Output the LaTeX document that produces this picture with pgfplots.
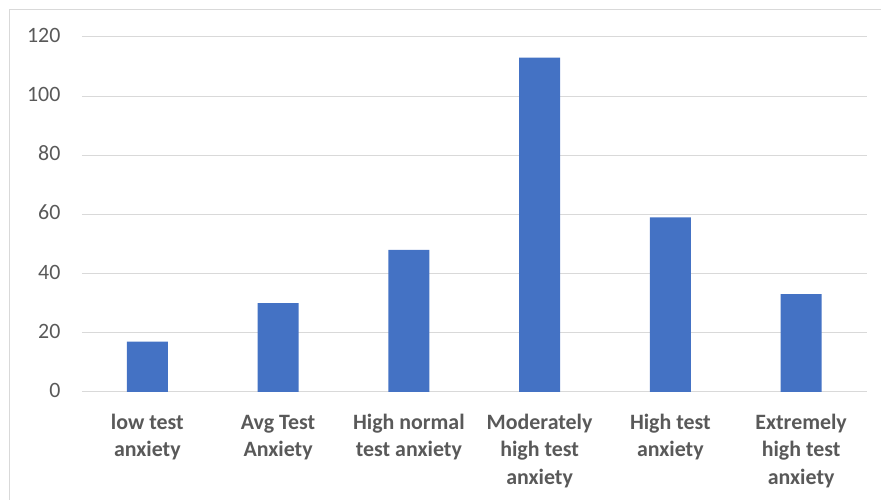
\documentclass[border=0pt]{standalone}
\usepackage{pgfplots}
\pgfplotsset{compat=1.18}
\usepackage{fontspec}
\setmainfont{Carlito}
\definecolor{barblue}{HTML}{4472C4}
\definecolor{txtgray}{HTML}{595959}
\definecolor{gridgray}{HTML}{D9D9D9}
\begin{document}
\begin{tikzpicture}
\begin{axis}[
  scale only axis,
  width=785bp, height=355bp,
  xmin=-0.5, xmax=5.5,
  ymin=0, ymax=120,
  ytick={0,20,...,120},
  xtick={0,1,2,3,4,5},
  xticklabels={{low test\\anxiety},{Avg Test\\Anxiety},{High normal\\test anxiety},{Moderately\\high test\\anxiety},{High test\\anxiety},{Extremely\\high test\\anxiety}},
  axis x line*=bottom,
  axis y line*=left,
  x axis line style={draw=gridgray, line width=1bp, -},
  y axis line style={draw=none},
  ymajorgrids,
  grid style={draw=gridgray, line width=1bp},
  major tick length=0pt,
  tick style={draw=none},
  typeset ticklabels with strut,
  xticklabel style={font=\fontsize{22}{27.7}\selectfont\bfseries, text=txtgray, align=center, anchor=north, yshift=-14.5bp},
  yticklabel style={font=\fontsize{22}{27.7}\selectfont, text=txtgray, anchor=east, xshift=-18bp},
  /pgf/number format/assume math mode=true,
  clip=false,
]
\addplot[ybar, bar width=41bp, fill=barblue, draw=none] coordinates {
  (0,17) (1,30) (2,48) (3,113) (4,59) (5,33)
};
\path (rel axis cs:-0.104459,-0.304225) rectangle (rel axis cs:1.017834,1.104225);
\draw[gridgray, line width=1bp] (rel axis cs:-0.092357,-0.304225) -- (rel axis cs:-0.092357,1.077465) -- (rel axis cs:1.017834,1.077465);
\end{axis}
\end{tikzpicture}
\end{document}
